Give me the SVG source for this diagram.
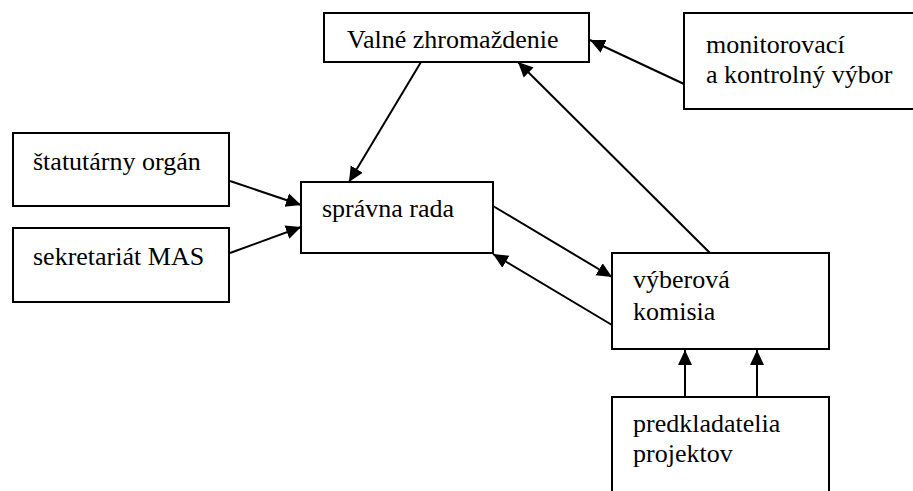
<svg xmlns="http://www.w3.org/2000/svg" width="913" height="491" viewBox="0 0 913 491">
<defs>
<style>
.box{fill:#fff;stroke:#000;stroke-width:2}
.c{stroke:#000;stroke-width:2;fill:none;marker-end:url(#ah)}
</style>
<marker id="ah" markerUnits="userSpaceOnUse" markerWidth="16" markerHeight="16" viewBox="0 0 16 16" refX="15" refY="8" orient="auto">
<path d="M0,1 L15,8 L0,15 Z" fill="#000"/>
</marker>
</defs>
<rect width="913" height="491" fill="#fff"/>
<g font-family="Liberation Serif, Times New Roman, DejaVu Serif, serif" font-size="26" fill="#000">
<g id="valne"><rect class="box" x="324" y="13" width="265" height="49"/><text x="347" y="48">Valné zhromaždenie</text></g>
<g id="monitor"><rect class="box" x="684" y="13" width="240" height="96"/><text x="706" y="53">monitorovací</text><text x="706" y="83">a kontrolný výbor</text></g>
<g id="statutarny"><rect class="box" x="13" y="133" width="216" height="73"/><text x="33" y="170">štatutárny orgán</text></g>
<g id="sekretariat"><rect class="box" x="13" y="228" width="216" height="74"/><text x="33" y="265">sekretariát MAS</text></g>
<g id="spravna"><rect class="box" x="301" y="182" width="192" height="71"/><text x="322" y="217">správna rada</text></g>
<g id="vyberova"><rect class="box" x="612" y="253" width="217" height="96"/><text x="633" y="288">výberová</text><text x="633" y="320">komisia</text></g>
<g id="predkladatelia"><rect class="box" x="612" y="397" width="217" height="110"/><text x="633" y="432">predkladatelia</text><text x="633" y="462">projektov</text></g>
</g>
<g id="connectors">
<line class="c" x1="684" y1="84" x2="590" y2="40"/>
<line class="c" x1="421" y1="62" x2="349" y2="182"/>
<line class="c" x1="710" y1="253" x2="518" y2="62"/>
<line class="c" x1="230" y1="181" x2="301" y2="205"/>
<line class="c" x1="230" y1="253" x2="301" y2="227"/>
<line class="c" x1="493" y1="206" x2="612" y2="277"/>
<line class="c" x1="612" y1="325" x2="493" y2="254"/>
<line class="c" x1="685" y1="397" x2="685" y2="350"/>
<line class="c" x1="757" y1="397" x2="757" y2="350"/>
</g>
</svg>
